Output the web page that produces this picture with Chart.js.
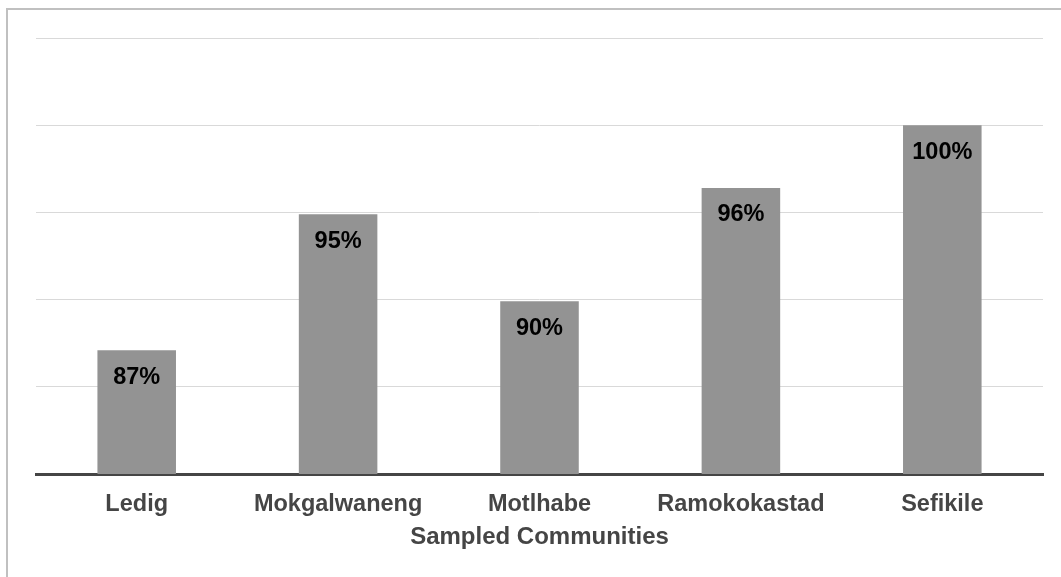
<!DOCTYPE html>
<html>
<head>
<meta charset="utf-8">
<script src="https://cdn.jsdelivr.net/npm/chart.js@4"></script>
<style>
  html, body { margin: 0; padding: 0; background: #fff; }
  #wrap { position: relative; width: 1061px; height: 577px; overflow: hidden; }
  #frame { position: absolute; left: 6px; top: 8px; width: 1100px; height: 620px;
           border-left: 2px solid #c0c0c0; border-top: 2px solid #c0c0c0; }
  #bar { position: absolute; left: 0; top: 0; }
</style>
</head>
<body>
<div id="wrap">
  <div id="frame"></div>
  <canvas id="bar" width="1061" height="577"></canvas>
</div>
<script>
const communities = ["Ledig", "Mokgalwaneng", "Motlhabe", "Ramokokastad", "Sefikile"];
const shares = [87.1, 94.9, 89.9, 96.4, 100];
const shareLabels = ["87%", "95%", "90%", "96%", "100%"];
const yTicks = [80, 85, 90, 95, 100, 105];

const barLabels = {
  id: "barLabels",
  afterDatasetsDraw(chart) {
    const ctx = chart.ctx;
    const meta = chart.getDatasetMeta(0);
    ctx.save();
    ctx.font = "bold 23.5px 'Liberation Sans', Arial, sans-serif";
    ctx.fillStyle = "#000";
    ctx.textAlign = "center";
    ctx.textBaseline = "middle";
    meta.data.forEach((bar, i) => {
      ctx.fillText(shareLabels[i], bar.x, bar.y + 27);
    });
    ctx.restore();
  }
};

chart();

function chart() {
  const ctx = document.getElementById("bar").getContext("2d");
  new Chart(ctx, {
    type: "bar",
    data: {
      labels: communities,
      datasets: [
        {
          label: "Share",
          data: shares,
          backgroundColor: "#939393",
          borderWidth: 0,
          barPercentage: 0.39,
          categoryPercentage: 1
        }
      ]
    },
    options: {
      responsive: false,
      animation: false,
      layout: { padding: { left: 36, right: 18, top: 38, bottom: 25 } },
      plugins: { legend: { display: false }, tooltip: { enabled: false } },
      scales: {
        x: {
          grid: { display: false, drawTicks: false },
          border: { display: true, color: "#454545", width: 3 },
          ticks: {
            color: "#454545",
            padding: 16,
            font: { family: "'Liberation Sans', Arial, sans-serif", size: 23.5, weight: "bold" }
          },
          title: {
            display: true,
            text: "Sampled Communities",
            color: "#454545",
            padding: { top: -11, bottom: 0 },
            font: { family: "'Liberation Sans', Arial, sans-serif", size: 24, weight: "bold" }
          }
        },
        y: {
          min: 80,
          max: 105,
          afterBuildTicks(scale) {
            scale.ticks = yTicks.map(v => ({ value: v }));
          },
          grid: { color: "#d9d9d9", lineWidth: 1, drawTicks: false },
          border: { display: false },
          ticks: { display: false }
        }
      }
    },
    plugins: [barLabels]
  });
}
</script>
</body>
</html>
